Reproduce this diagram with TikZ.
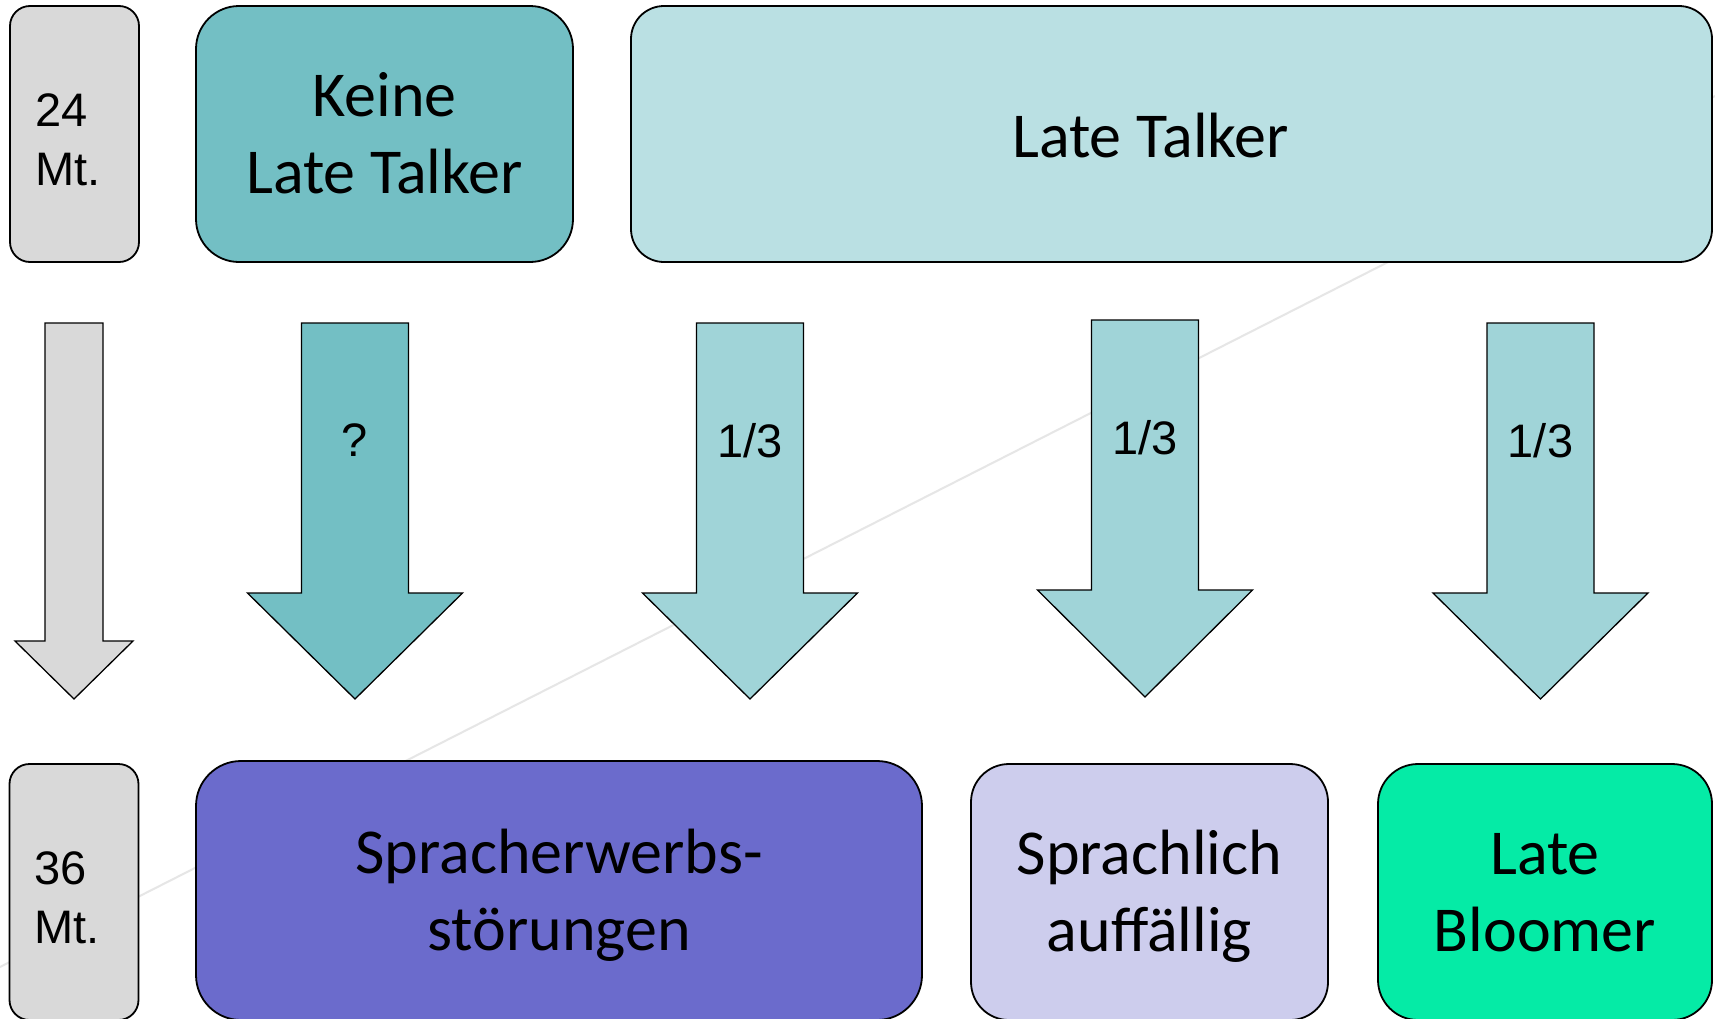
\documentclass[tikz,border=0pt]{standalone}
\usepackage{fontspec}
\setmainfont{Carlito}
\newfontfamily\arialf{Liberation Sans}
\definecolor{cgrey}{HTML}{D9D9D9}
\definecolor{cteal}{HTML}{73BFC4}
\definecolor{clt}{HTML}{BAE0E3}
\definecolor{carrow}{HTML}{A0D4D8}
\definecolor{csew}{HTML}{6B6BCC}
\definecolor{cspr}{HTML}{CDCDED}
\definecolor{clb}{HTML}{05EBA6}
\definecolor{cdiag}{HTML}{E6E6E6}
\begin{document}
\begin{tikzpicture}[x=1pt,y=-1pt,
  box/.style={draw=black, line width=1.8pt, rounded corners=#1, inner sep=0pt,
    align=center, font=\fontsize{64}{77}\selectfont},
  twoline/.style={text height=125pt, text depth=6pt},
  agebox/.style={draw=black, line width=1.8pt, rounded corners=20pt, fill=cgrey,
    inner ysep=0pt, inner xsep=25pt, text width=79pt, align=left,
    minimum width=129pt, minimum height=256pt, font=\arialf\fontsize{47}{59}\selectfont,
    text height=47pt, text depth=63pt},
  blockarrow/.style={draw=black, line width=1.3pt, line join=miter},
  alabel/.style={font=\arialf\fontsize{47}{56}\selectfont, inner sep=0pt}
]
\useasboundingbox (0,0) rectangle (1715,1018);
\fill[white] (0,0) rectangle (1715,1018);
% faint background diagonal
\coordinate (d1) at (0,967);
\coordinate (d2) at (1715,96);
\draw[cdiag, line width=2pt] (d1) -- (d2);

% top row
\node[agebox] (m24) at (74.5,134) {24\\Mt.};
\node[box=43pt, twoline, fill=cteal, minimum width=377pt, minimum height=256pt] (keine) at (384.5,134) {Keine\\Late Talker};
\node[box=33pt, fill=clt, minimum width=1081pt, minimum height=256pt, text height=46pt, text depth=0pt] (lt) at (1171.5,134) {Late Talker\hspace*{42pt}};

% bottom row
\node[agebox] (m36) at (74,892) {36\\Mt.};
\node[box=45pt, twoline, fill=csew, minimum width=726pt, minimum height=259pt] (sew) at (559,890.5) {Spracherwerbs-\\störungen};
\node[box=38pt, twoline, fill=cspr, minimum width=357pt, minimum height=256pt] (spr) at (1149.5,892) {Sprachlich\\auffällig};
\node[box=40pt, twoline, fill=clb, minimum width=334pt, minimum height=256pt] (lb) at (1545,892) {Late\\Bloomer};

% block arrows
\draw[blockarrow, fill=cgrey] (45,323) -- (103,323) -- (103,641) -- (133,641) -- (74,699) -- (15,641) -- (45,641) -- cycle;
\draw[blockarrow, fill=cteal] (301.5,323) -- (408.5,323) -- (408.5,593) -- (462.5,593) -- (355,699) -- (247.5,593) -- (301.5,593) -- cycle;
\draw[blockarrow, fill=carrow] (696.5,323) -- (803.5,323) -- (803.5,593) -- (857.5,593) -- (750,699) -- (642.5,593) -- (696.5,593) -- cycle;
\draw[blockarrow, fill=carrow] (1091.5,320) -- (1198.5,320) -- (1198.5,590) -- (1252.5,590) -- (1145,697) -- (1037.5,590) -- (1091.5,590) -- cycle;
\draw[blockarrow, fill=carrow] (1487,323) -- (1594,323) -- (1594,593) -- (1648,593) -- (1540.5,699) -- (1433,593) -- (1487,593) -- cycle;

% arrow labels
\node[alabel] (q) at (355,440) {?};
\node[alabel] (t1) at (750,441) {1/3};
\node[alabel] (t2) at (1145,438) {1/3};
\node[alabel] (t3) at (1540.5,441) {1/3};
\end{tikzpicture}
\end{document}
